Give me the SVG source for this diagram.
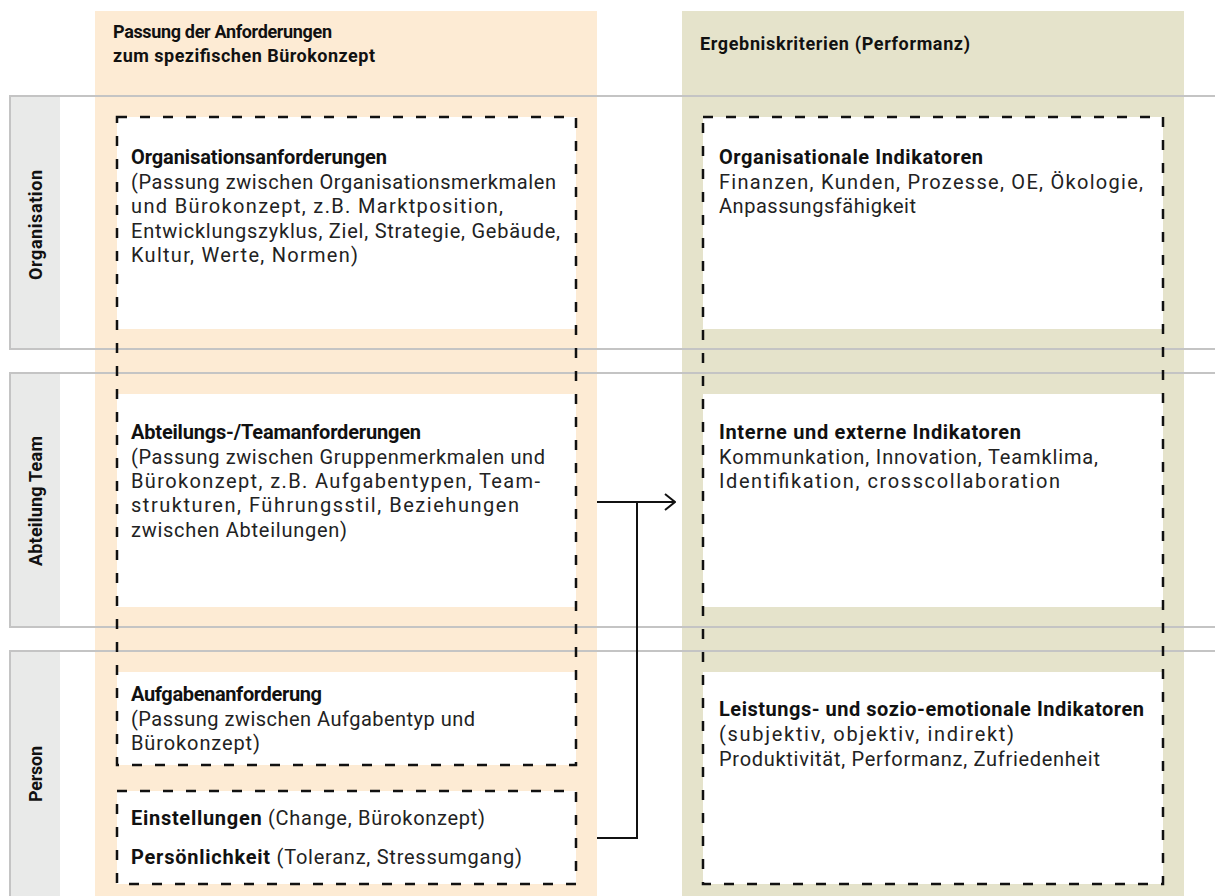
<svg xmlns="http://www.w3.org/2000/svg" width="1215" height="896" viewBox="0 0 1215 896">
  <defs>
    <style>
      .band-req { fill: #fdebd4; }
      .band-res { fill: #e5e3cb; }
      .row { fill: none; stroke: #c4c4c4; stroke-width: 2; }
      .rowbar { fill: #e9eae9; }
      .card { fill: #ffffff; }
      .dash { fill: none; stroke: #111111; stroke-width: 2.5; stroke-dasharray: 10 13; }
      text { font-family: Roboto, "Liberation Sans", sans-serif; fill: #222222; }
      .hd { font-size: 18px; font-weight: bold; fill: #111111; }
      .t { font-size: 20px; }
      .b { font-weight: bold; fill: #111111; }
      .lbl { font-size: 18px; font-weight: bold; fill: #111111; text-anchor: middle; }
      .wire { fill: none; stroke: #111111; stroke-width: 2; }
    </style>
    <marker id="open-arrow" viewBox="0 0 12 20" refX="11" refY="10" markerWidth="12" markerHeight="20" markerUnits="userSpaceOnUse" orient="auto">
      <path d="M1,2 L11,10 L1,18" fill="none" stroke="#111111" stroke-width="2"/>
    </marker>
  </defs>

  <rect width="1215" height="896" fill="#ffffff"/>

  <!-- column bands -->
  <g id="column-requirements">
    <rect class="band-req" x="95" y="11" width="502" height="885"/>
    <text class="hd" x="113" y="38" textLength="219" lengthAdjust="spacing">Passung der Anforderungen</text>
    <text class="hd" x="113" y="62" textLength="262" lengthAdjust="spacing">zum spezifischen Bürokonzept</text>
  </g>
  <g id="column-results">
    <rect class="band-res" x="682" y="11" width="502" height="885"/>
    <text class="hd" x="700" y="50" textLength="270" lengthAdjust="spacing">Ergebniskriterien (Performanz)</text>
  </g>

  <!-- level rows -->
  <g id="row-organisation">
    <rect class="rowbar" x="11" y="97" width="49" height="251"/>
    <rect class="row" x="10" y="96" width="1220" height="253"/>
    <text class="lbl" transform="translate(42,225) rotate(-90)" textLength="110" lengthAdjust="spacing">Organisation</text>
  </g>
  <g id="row-team">
    <rect class="rowbar" x="11" y="374" width="49" height="252"/>
    <rect class="row" x="10" y="373" width="1220" height="254"/>
    <text class="lbl" transform="translate(42,501) rotate(-90)" textLength="130" lengthAdjust="spacing">Abteilung Team</text>
  </g>
  <g id="row-person">
    <rect class="rowbar" x="11" y="652" width="49" height="250"/>
    <rect class="row" x="10" y="651" width="1220" height="260"/>
    <text class="lbl" transform="translate(42,774) rotate(-90)" textLength="56" lengthAdjust="spacing">Person</text>
  </g>

  <!-- requirement cards -->
  <g id="req-organisation">
    <rect class="card" x="117" y="117" width="459" height="212"/>
    <text class="t b" x="131" y="164" textLength="256" lengthAdjust="spacing">Organisationsanforderungen</text>
    <text class="t" x="131" y="189" textLength="425" lengthAdjust="spacing">(Passung zwischen Organisationsmerkmalen</text>
    <text class="t" x="131" y="213" textLength="372" lengthAdjust="spacing">und Bürokonzept, z.B. Marktposition,</text>
    <text class="t" x="131" y="238" textLength="429" lengthAdjust="spacing">Entwicklungszyklus, Ziel, Strategie, Gebäude,</text>
    <text class="t" x="131" y="262" textLength="227" lengthAdjust="spacing">Kultur, Werte, Normen)</text>
  </g>
  <g id="req-team">
    <rect class="card" x="117" y="394" width="459" height="213"/>
    <text class="t b" x="131" y="439" textLength="290" lengthAdjust="spacing">Abteilungs-/Teamanforderungen</text>
    <text class="t" x="131" y="464" textLength="414" lengthAdjust="spacing">(Passung zwischen Gruppenmerkmalen und</text>
    <text class="t" x="131" y="488" textLength="409" lengthAdjust="spacing">Bürokonzept, z.B. Aufgabentypen, Team-</text>
    <text class="t" x="131" y="512" textLength="388" lengthAdjust="spacing">strukturen, Führungsstil, Beziehungen</text>
    <text class="t" x="131" y="537" textLength="216" lengthAdjust="spacing">zwischen Abteilungen)</text>
  </g>
  <g id="req-task">
    <rect class="card" x="117" y="672" width="459" height="93"/>
    <text class="t b" x="131" y="701" textLength="191" lengthAdjust="spacing">Aufgabenanforderung</text>
    <text class="t" x="131" y="726" textLength="344" lengthAdjust="spacing">(Passung zwischen Aufgabentyp und</text>
    <text class="t" x="131" y="750" textLength="129" lengthAdjust="spacing">Bürokonzept)</text>
  </g>
  <g id="req-person">
    <rect class="card" x="117" y="791" width="459" height="93"/>
    <text class="t" x="131" y="825" textLength="354" lengthAdjust="spacing"><tspan class="b">Einstellungen</tspan> (Change, Bürokonzept)</text>
    <text class="t" x="131" y="864" textLength="391" lengthAdjust="spacing"><tspan class="b">Persönlichkeit</tspan> (Toleranz, Stressumgang)</text>
  </g>

  <!-- result cards -->
  <g id="res-organisation">
    <rect class="card" x="703" y="117" width="460" height="212"/>
    <text class="t b" x="719" y="164" textLength="264" lengthAdjust="spacing">Organisationale Indikatoren</text>
    <text class="t" x="719" y="189" textLength="424" lengthAdjust="spacing">Finanzen, Kunden, Prozesse, OE, Ökologie,</text>
    <text class="t" x="719" y="213" textLength="197" lengthAdjust="spacing">Anpassungsfähigkeit</text>
  </g>
  <g id="res-team">
    <rect class="card" x="703" y="394" width="460" height="213"/>
    <text class="t b" x="719" y="439" textLength="302" lengthAdjust="spacing">Interne und externe Indikatoren</text>
    <text class="t" x="719" y="464" textLength="379" lengthAdjust="spacing">Kommunkation, Innovation, Teamklima,</text>
    <text class="t" x="719" y="488" textLength="341" lengthAdjust="spacing">Identifikation, crosscollaboration</text>
  </g>
  <g id="res-person">
    <rect class="card" x="703" y="672" width="460" height="212"/>
    <text class="t b" x="719" y="716" textLength="425" lengthAdjust="spacing">Leistungs- und sozio-emotionale Indikatoren</text>
    <text class="t" x="719" y="741" textLength="295" lengthAdjust="spacing">(subjektiv, objektiv, indirekt)</text>
    <text class="t" x="719" y="766" textLength="381" lengthAdjust="spacing">Produktivität, Performanz, Zufriedenheit</text>
  </g>

  <!-- dashed groupings -->
  <g id="groupings">
    <rect class="dash" x="117" y="117" width="459" height="648"/>
    <rect class="dash" x="117" y="791" width="459" height="93"/>
    <rect class="dash" x="703" y="117" width="460" height="767"/>
  </g>

  <!-- connectors -->
  <g id="connectors">
    <path class="wire" d="M597,502 H675" marker-end="url(#open-arrow)"/>
    <path class="wire" d="M637,502 V838 H597"/>
  </g>
</svg>
